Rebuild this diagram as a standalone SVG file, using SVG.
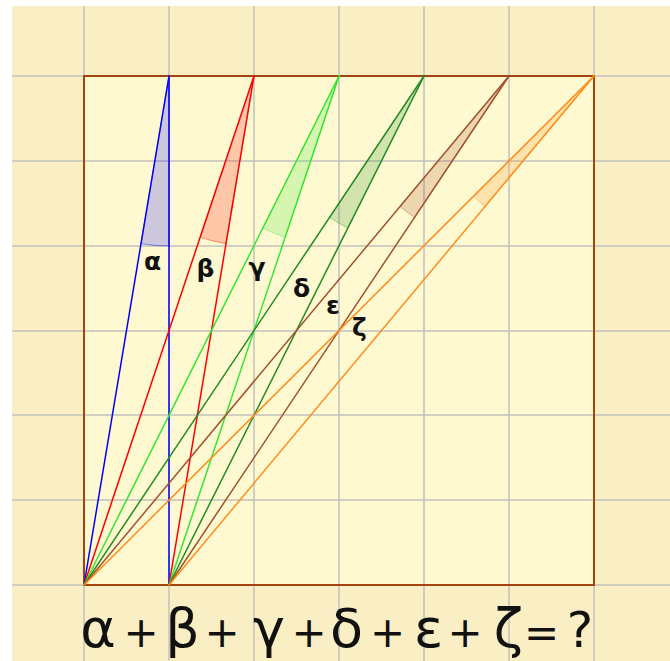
<svg xmlns="http://www.w3.org/2000/svg" width="670" height="661" viewBox="0 0 670 661">
<style>
.grid{stroke:#c2c0bc;stroke-width:1.5;fill:none}
.ln{stroke-width:1.5;fill:none;stroke-linecap:round}
.ang{fill-opacity:0.2;stroke-opacity:0.4;stroke-width:1}
.lbl{font-family:"DejaVu Sans",sans-serif;font-weight:bold;font-size:25px;fill:#111;text-anchor:middle}
.eq{font-family:"DejaVu Sans",sans-serif;fill:#111;text-anchor:middle}
.g{font-size:54px}
.op{font-size:42px}
.q{font-size:50px}
</style>
<rect x="0" y="0" width="670" height="661" fill="#ffffff"/>
<rect x="12" y="6" width="658" height="655" fill="#faefc4"/>
<rect x="84" y="76" width="510" height="509" fill="#fff9d1"/>
<g id="grid" class="grid">
<line x1="84" y1="6" x2="84" y2="661"/>
<line x1="169" y1="6" x2="169" y2="661"/>
<line x1="254" y1="6" x2="254" y2="661"/>
<line x1="339" y1="6" x2="339" y2="661"/>
<line x1="424" y1="6" x2="424" y2="661"/>
<line x1="509" y1="6" x2="509" y2="661"/>
<line x1="594" y1="6" x2="594" y2="661"/>
<line x1="12" y1="76" x2="670" y2="76"/>
<line x1="12" y1="161" x2="670" y2="161"/>
<line x1="12" y1="246" x2="670" y2="246"/>
<line x1="12" y1="331" x2="670" y2="331"/>
<line x1="12" y1="415" x2="670" y2="415"/>
<line x1="12" y1="500" x2="670" y2="500"/>
<line x1="12" y1="585" x2="670" y2="585"/>
</g>
<rect id="square" x="84" y="76" width="510" height="509" fill="none" stroke="#a3440e" stroke-width="2"/>
<g id="angles">
<path id="fill-alpha" class="ang" fill="#0000ff" stroke="#0000ff" d="M169,76 L141,243.68 A170,170 0 0 0 169,246 Z"/>
<path id="fill-beta" class="ang" fill="#ff0000" stroke="#ff0000" d="M254,76 L200.15,237.24 A170,170 0 0 0 226,243.68 Z"/>
<path id="fill-gamma" class="ang" fill="#33e633" stroke="#33e633" d="M339,76 L262.85,227.99 A170,170 0 0 0 285.15,237.24 Z"/>
<path id="fill-delta" class="ang" fill="#228b22" stroke="#228b22" d="M424,76 L329.57,217.36 A170,170 0 0 0 347.85,227.99 Z"/>
<path id="fill-epsilon" class="ang" fill="#a0522d" stroke="#a0522d" d="M509,76 L400.04,206.49 A170,170 0 0 0 414.57,217.36 Z"/>
<path id="fill-zeta" class="ang" fill="#ff8c1a" stroke="#ff8c1a" d="M594,76 L473.67,196.09 A170,170 0 0 0 485.04,206.49 Z"/>
</g>
<g id="connectors">
<g stroke="#0000ff" class="ln"><line x1="84" y1="585" x2="169" y2="76"/><line x1="169" y1="585" x2="169" y2="76"/></g>
<g stroke="#ff0000" class="ln"><line x1="84" y1="585" x2="254" y2="76"/><line x1="169" y1="585" x2="254" y2="76"/></g>
<g stroke="#33e633" class="ln"><line x1="84" y1="585" x2="339" y2="76"/><line x1="169" y1="585" x2="339" y2="76"/></g>
<g stroke="#228b22" class="ln"><line x1="84" y1="585" x2="424" y2="76"/><line x1="169" y1="585" x2="424" y2="76"/></g>
<g stroke="#a0522d" class="ln"><line x1="84" y1="585" x2="509" y2="76"/><line x1="169" y1="585" x2="509" y2="76"/></g>
<g stroke="#ff8c1a" class="ln"><line x1="84" y1="585" x2="594" y2="76"/><line x1="169" y1="585" x2="594" y2="76"/></g>
</g>
<g id="labels">
<text class="lbl" x="152.5" y="270">α</text>
<text class="lbl" x="205.5" y="277">β</text>
<text class="lbl" x="257" y="276">γ</text>
<text class="lbl" x="301.5" y="297">δ</text>
<text class="lbl" x="333" y="314">ε</text>
<text class="lbl" x="359.5" y="336">ζ</text>
</g>
<g id="equation">
<text class="eq" y="647"><tspan class="g" x="98">α</tspan><tspan class="op" x="141">+</tspan><tspan class="g" x="182.5">β</tspan><tspan class="op" x="222">+</tspan><tspan class="g" x="269">γ</tspan><tspan class="op" x="309">+</tspan><tspan class="g" x="346.5">δ</tspan><tspan class="op" x="387.5">+</tspan><tspan class="g" x="428.5">ε</tspan><tspan class="op" x="465">+</tspan><tspan class="g" x="508.5">ζ</tspan><tspan class="op" x="541.5">=</tspan><tspan class="q" x="580">?</tspan></text>
</g>
</svg>
